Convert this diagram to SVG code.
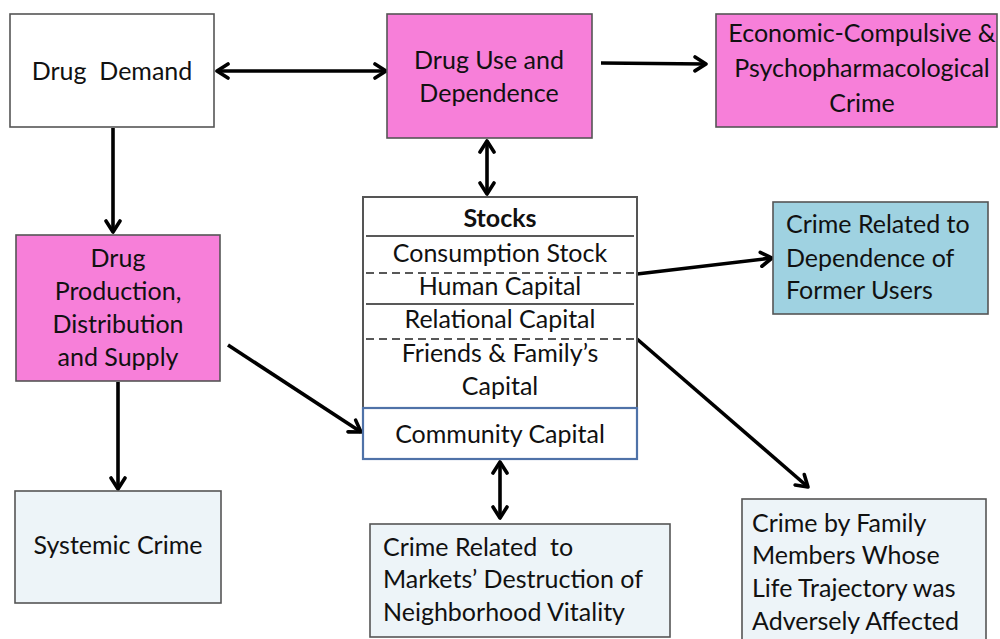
<svg xmlns="http://www.w3.org/2000/svg" width="1000" height="639" viewBox="0 0 1000 639">
<defs>
<marker id="ah" viewBox="0 0 18 18" markerWidth="18" markerHeight="18" refX="15" refY="9" orient="auto-start-reverse" markerUnits="userSpaceOnUse">
<path d="M4,2 L15,9 L4,16" fill="none" stroke="#000" stroke-width="3.6" stroke-linecap="round" stroke-linejoin="round"/>
</marker>
<style>
text{font-family:Lato,"Open Sans","Liberation Sans",sans-serif;font-size:25px;fill:#111;white-space:pre}
.c{text-anchor:middle}
.box{stroke:#555;stroke-width:1.6}
.pink{fill:#f77fd9}
.white{fill:#fff}
.blue{fill:#9fd2e1}
.pale{fill:#edf4f8}
.ln{stroke:#000;stroke-width:3.6;fill:none}
.sep{stroke:#222;stroke-width:1.6}
.dash{stroke:#222;stroke-width:1.6;stroke-dasharray:8 5}
</style>
</defs>
<rect width="1000" height="639" fill="#fff"/>

<g id="connectors">
<line class="ln" x1="217" y1="71" x2="386" y2="71" marker-start="url(#ah)" marker-end="url(#ah)"/>
<line class="ln" x1="601" y1="63" x2="706" y2="64" marker-end="url(#ah)"/>
<line class="ln" x1="487" y1="141" x2="487" y2="194" marker-start="url(#ah)" marker-end="url(#ah)"/>
<line class="ln" x1="113" y1="128" x2="113" y2="232" marker-end="url(#ah)"/>
<line class="ln" x1="118" y1="382" x2="118" y2="489" marker-end="url(#ah)"/>
<line class="ln" x1="228" y1="345" x2="361" y2="432" marker-end="url(#ah)"/>
<line class="ln" x1="637" y1="274" x2="772" y2="258" marker-end="url(#ah)"/>
<line class="ln" x1="637" y1="339" x2="808" y2="487" marker-end="url(#ah)"/>
<line class="ln" x1="500" y1="462" x2="500" y2="518" marker-start="url(#ah)" marker-end="url(#ah)"/>
</g>

<g id="drug-demand">
<rect class="box white" x="10" y="14" width="204" height="113"/>
<text class="c" x="112" y="80">Drug  Demand</text>
</g>

<g id="drug-use">
<rect class="box pink" x="387" y="14" width="205" height="124"/>
<text class="c" x="489" y="69">Drug Use and</text>
<text class="c" x="489" y="102">Dependence</text>
</g>

<g id="economic-crime">
<rect class="box pink" x="716" y="14" width="281" height="113"/>
<text class="c" x="862" y="42">Economic-Compulsive &amp;</text>
<text class="c" x="862" y="77">Psychopharmacological</text>
<text class="c" x="862" y="112">Crime</text>
</g>

<g id="drug-production">
<rect class="box pink" x="16" y="235" width="204" height="146"/>
<text class="c" x="118" y="267">Drug</text>
<text class="c" x="118" y="300">Production,</text>
<text class="c" x="118" y="333">Distribution</text>
<text class="c" x="118" y="366">and Supply</text>
</g>

<g id="stocks">
<rect x="363" y="197" width="274" height="262" fill="#fff" stroke="#555" stroke-width="2"/>
<line class="sep" x1="366" y1="236" x2="634" y2="236"/>
<line class="dash" x1="366" y1="273" x2="637" y2="273"/>
<line class="sep" x1="366" y1="304" x2="634" y2="304"/>
<line class="dash" x1="366" y1="339" x2="637" y2="339"/>
<text class="c" x="500" y="227" font-weight="bold">Stocks</text>
<text class="c" x="500" y="262">Consumption Stock</text>
<text class="c" x="500" y="295">Human Capital</text>
<text class="c" x="500" y="328">Relational Capital</text>
<text class="c" x="500" y="362">Friends &amp; Family’s</text>
<text class="c" x="500" y="395">Capital</text>
</g>

<g id="community-capital">
<rect x="363" y="408" width="274" height="51" fill="#fff" stroke="#4f72a8" stroke-width="2.2"/>
<text class="c" x="500" y="443">Community Capital</text>
</g>

<g id="crime-dependence">
<rect class="box blue" x="773" y="202" width="215" height="112"/>
<text x="786" y="233">Crime Related to</text>
<text x="786" y="267">Dependence of</text>
<text x="786" y="299">Former Users</text>
</g>

<g id="systemic-crime">
<rect class="box pale" x="15" y="491" width="206" height="112"/>
<text class="c" x="118" y="554">Systemic Crime</text>
</g>

<g id="markets-crime">
<rect class="box pale" x="370" y="524" width="300" height="113"/>
<text x="383" y="556">Crime Related  to</text>
<text x="383" y="588">Markets’ Destruction of</text>
<text x="383" y="621">Neighborhood Vitality</text>
</g>

<g id="family-crime">
<rect class="box pale" x="742" y="499" width="244" height="145"/>
<text x="752" y="532">Crime by Family</text>
<text x="752" y="564">Members Whose</text>
<text x="752" y="597">Life Trajectory was</text>
<text x="752" y="630">Adversely Affected</text>
</g>
</svg>
